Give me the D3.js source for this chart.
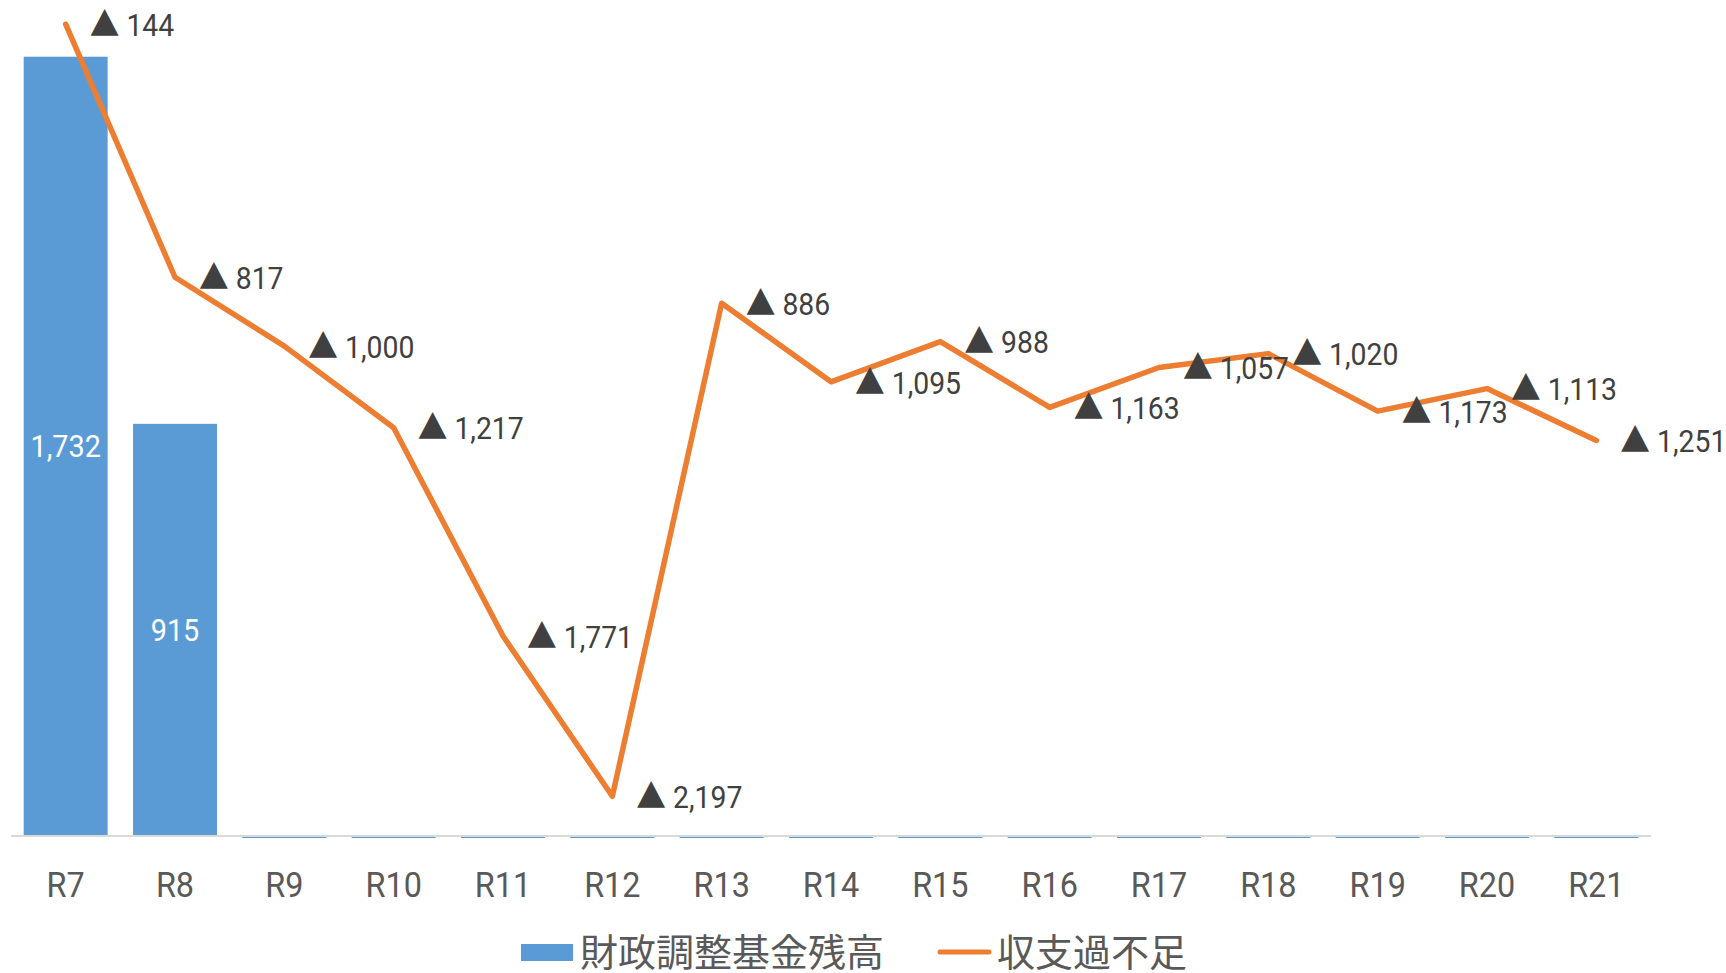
<!DOCTYPE html>
<html>
<head>
<meta charset="utf-8">
<script src="https://cdn.jsdelivr.net/npm/d3@7"></script>
<style>
  html, body { margin: 0; padding: 0; background: #fff; }
  svg { display: block; }
</style>
</head>
<body>
<svg id="chart"></svg>
<script>
// categories and values
const categories = ["R7", "R8", "R9", "R10", "R11", "R12", "R13", "R14", "R15", "R16", "R17", "R18", "R19", "R20", "R21"];
const fundBalance = [1732, 915, 0, 0, 0, 0, 0, 0, 0, 0, 0, 0, 0, 0, 0];
const balanceGap = [-144, -817, -1000, -1217, -1771, -2197, -886, -1095, -988, -1163, -1057, -1020, -1173, -1113, -1251];
const seriesNames = ["財政調整基金残高", "収支過不足"];

const width = 1726;
const height = 973;
const plot = { left: 11, right: 1651, top: -30, bottom: 835 };

const barColor = "#5B9BD5";
const lineColor = "#ED7D31";
const latin = "Roboto, 'Noto Sans', sans-serif";
const cjk = "'Noto Sans CJK JP', 'Noto Sans CJK SC', sans-serif";
const squeeze = 0.9; // the original font is a bit narrower

const svg = d3.select("#chart")
  .attr("width", width)
  .attr("height", height)
  .attr("viewBox", `0 0 ${width} ${height}`);

const x = d3.scaleBand()
  .domain(categories)
  .range([plot.left, plot.right])
  .paddingInner(0.232)
  .paddingOuter(0.116);

const yBar = d3.scaleLinear().domain([0, 1925]).range([plot.bottom, plot.top]);
const yLine = d3.scaleLinear().domain([0, -2300]).range([plot.top, plot.bottom]);

const fmt = d3.format(",");
const rows = categories.map((c, i) => ({ cat: c, fund: fundBalance[i], gap: balanceGap[i] }));

// bars (zero bars show as a thin strip under the axis)
svg.append("g")
  .selectAll("rect")
  .data(rows)
  .join("rect")
  .attr("x", (d) => x(d.cat))
  .attr("width", x.bandwidth())
  .attr("y", (d) => (d.fund > 0 ? yBar(d.fund) : yBar(0) + 1))
  .attr("height", (d) => (d.fund > 0 ? yBar(0) - yBar(d.fund) : 2))
  .attr("fill", barColor);

// category axis
const xAxis = svg.append("g")
  .attr("transform", `translate(0,${yBar(0)})`)
  .call(d3.axisBottom(x).tickSize(0).tickPadding(0));
xAxis.select(".domain")
  .attr("d", `M${plot.left},1H${plot.right}`)
  .attr("stroke", "#d9d9d9")
  .attr("stroke-width", 2);
xAxis.selectAll(".tick text")
  .attr("font-family", latin)
  .attr("font-size", "36px")
  .attr("fill", "#595959")
  .attr("y", 49)
  .attr("dy", "0.35em")
  .attr("transform", `scale(${squeeze},1)`)
  .attr("x", 0)
  .attr("text-anchor", "middle");

// bar value labels
svg.append("g")
  .selectAll("g")
  .data(rows.filter((d) => d.fund > 0))
  .join("g")
  .attr("transform", (d) => `translate(${x(d.cat) + x.bandwidth() / 2},${(yBar(d.fund) + yBar(0)) / 2}) scale(${squeeze},1)`)
  .append("text")
  .attr("text-anchor", "middle")
  .attr("dy", "0.36em")
  .attr("font-family", latin)
  .attr("font-size", "32px")
  .attr("fill", "#fff")
  .text((d) => fmt(d.fund));

// deficit line
const line = d3.line()
  .x((d) => x(d.cat) + x.bandwidth() / 2)
  .y((d) => yLine(d.gap));

svg.append("path")
  .datum(rows)
  .attr("d", line)
  .attr("fill", "none")
  .attr("stroke", lineColor)
  .attr("stroke-width", 5.5)
  .attr("stroke-linejoin", "round")
  .attr("stroke-linecap", "round");

// line labels: ▲ marks a negative value
const lbl = svg.append("g")
  .selectAll("g")
  .data(rows)
  .join("g")
  .attr("transform", (d) => `translate(${x(d.cat) + x.bandwidth() / 2 + 24},${yLine(d.gap) + 6}) scale(${squeeze},1)`)
  .append("text")
  .attr("dy", "0.36em")
  .attr("fill", "#404040");
lbl.append("tspan")
  .attr("font-family", cjk)
  .attr("font-size", "33px")
  .text((d) => (d.gap < 0 ? "▲" : ""));
lbl.append("tspan")
  .attr("font-family", latin)
  .attr("font-size", "31.5px")
  .text((d) => " " + fmt(Math.abs(d.gap)));

// legend
const legend = svg.append("g").attr("transform", "translate(521,952)");
legend.append("rect")
  .attr("x", 0).attr("y", -8)
  .attr("width", 52).attr("height", 17)
  .attr("fill", barColor);
legend.append("text")
  .attr("x", 59).attr("dy", "0.36em")
  .attr("font-family", cjk).attr("font-size", "38px").attr("fill", "#595959")
  .text(seriesNames[0]);
legend.append("line")
  .attr("x1", 419).attr("x2", 468).attr("y1", 0).attr("y2", 0)
  .attr("stroke", lineColor).attr("stroke-width", 5).attr("stroke-linecap", "round");
legend.append("text")
  .attr("x", 476).attr("dy", "0.36em")
  .attr("font-family", cjk).attr("font-size", "38px").attr("fill", "#595959")
  .text(seriesNames[1]);
</script>
</body>
</html>
